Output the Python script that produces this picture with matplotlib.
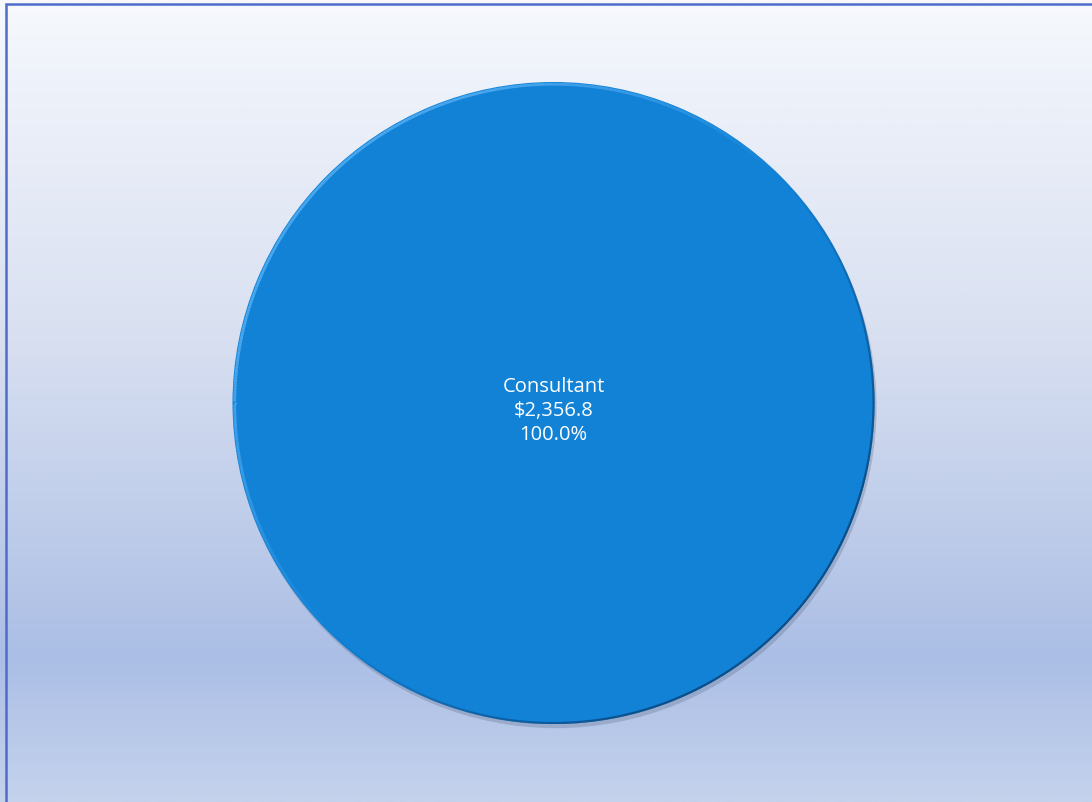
import matplotlib
matplotlib.use("Agg")
import matplotlib.pyplot as plt
import matplotlib.patheffects as pe
import numpy as np
from matplotlib.colors import LinearSegmentedColormap
from matplotlib.patches import Rectangle

categories = ["Consultant"]
values = [2356.8]

fig = plt.figure(figsize=(10.92, 8.03), dpi=100)

# background gradient across the whole chart area
bg = fig.add_axes([0, 0, 1, 1])
bg.set_axis_off()
grad = np.linspace(0, 1, 800).reshape(-1, 1)
cmap = LinearSegmentedColormap.from_list(
    "bg", [(0.0, "#f7f9fd"), (0.1, "#eef2fa"), (0.4, "#dae1f1"),
           (0.65, "#bfcdea"), (0.82, "#abbee5"), (1.0, "#c4d2ec")])
bg.imshow(grad, aspect="auto", cmap=cmap, extent=[0, 1, 0, 1], origin="upper",
          interpolation="bilinear")
bg.set_xlim(0, 1)
bg.set_ylim(0, 1)
bg.add_patch(Rectangle((5.5 / 1092, -0.01), 1.02, 1 - 4.5 / 803 + 0.01,
                       fill=False, ec="#4f6bcb", lw=1.8, transform=bg.transAxes))

# pie axes: centre ~ (553, 404) px, radius ~ 321 px
r = 321
cx, cy = 553.5, 404
ax = fig.add_axes([(cx - r) / 1092, (803 - cy - r) / 803, 2 * r / 1092, 2 * r / 803])
ax.set_axis_off()

total = sum(values)
wedges, _ = ax.pie(values, colors=["#1282d6"], radius=1.0, startangle=90,
                   wedgeprops=dict(linewidth=0))
for w in wedges:
    w.set_path_effects([
        pe.SimplePatchShadow(offset=(1.5, -3), shadow_rgbFace="#5a6a86", alpha=0.3),
        pe.Normal()])

# rim: light on the upper left, dark on the lower right
theta = np.linspace(0, 2 * np.pi, 720)
xs, ys = np.cos(theta), np.sin(theta)
for i in range(len(theta) - 1):
    a = np.cos(theta[i] - np.deg2rad(135))
    if a > 0:
        ax.plot(xs[i:i + 2] * 0.993, ys[i:i + 2] * 0.993, color="#4aa8ef",
                lw=2.0, alpha=min(1, a * 1.2), solid_capstyle="butt")
    else:
        ax.plot(xs[i:i + 2] * 0.997, ys[i:i + 2] * 0.997, color="#0a4c86",
                lw=1.6, alpha=min(1, -a * 1.1), solid_capstyle="butt")
ax.set_xlim(-1, 1)
ax.set_ylim(-1, 1)
ax.set_aspect("equal")

for name, v in zip(categories, values):
    label = f"{name}\n${v:,.1f}\n{v / total * 100:.1f}%"
    ax.text(0.0, -0.022, label, ha="center", va="center", color="white",
            fontsize=14.5, family="Open Sans", linespacing=1.24)

fig.savefig("out.png", dpi=100)
